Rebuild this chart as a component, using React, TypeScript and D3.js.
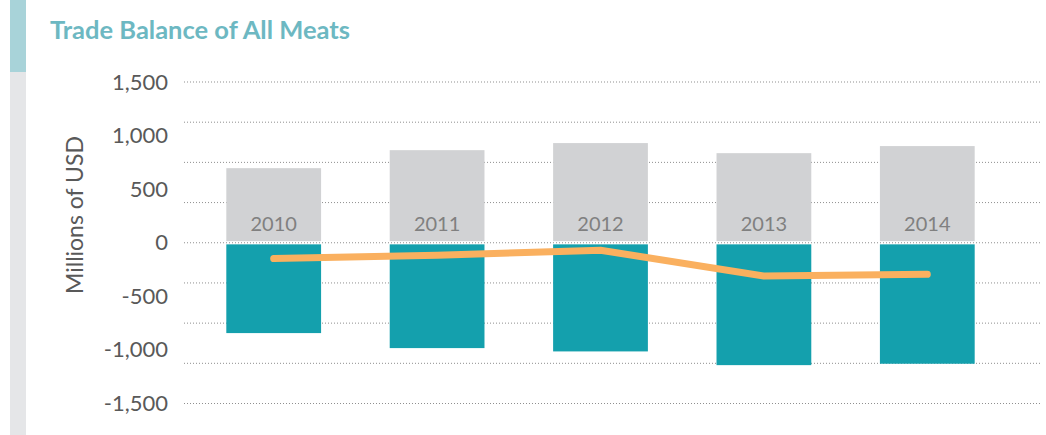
import React from "react";
import * as d3 from "d3";

const years = ["2010", "2011", "2012", "2013", "2014"];
const exportsUsd = [696, 864, 930, 836, 902];
const importsUsd = [-843, -983, -1014, -1142, -1129];
const balanceUsd = [-148, -117, -70, -310, -295];
const tickValues = [1500, 1000, 500, 0, -500, -1000, -1500];
const gridValues = [1500, 1125, 750, 375, 0, -375, -750, -1125, -1500];

const W = 1046;
const H = 435;
const font = "Lato, 'Open Sans', sans-serif";

const App = () => {
  const x = d3.scaleBand<string>().domain(years).range([192, 1009]).paddingInner(0.42).paddingOuter(0.21);
  const y = d3.scaleLinear().domain([-1500, 1500]).range([403.5, 82]);
  const zero = y(0);
  const gap = 1.6;

  const line = d3
    .line<number>()
    .x((_, i) => (x(years[i]) as number) + x.bandwidth() / 2)
    .y((d) => y(d));

  return (
    <svg width={W} height={H} style={{ position: "absolute", left: 0, top: 0, background: "#fff" }}>
      {/* side stripe */}
      <rect x={10} y={0} width={16} height={72} fill="#A8D3D9" />
      <rect x={10} y={72} width={16} height={H - 72} fill="#E5E6E8" />

      <text x={50} y={39} fill="#6DB8C2" fontFamily={font} fontWeight={700} fontSize={25.5}>
        Trade Balance of All Meats
      </text>

      {/* gridlines */}
      {gridValues.map((g) => (
        <line
          key={g}
          x1={184}
          x2={1040}
          y1={y(g)}
          y2={y(g)}
          stroke="#8f8f8f"
          strokeWidth={1}
          strokeDasharray="1 2"
        />
      ))}

      {/* tick labels */}
      {tickValues.map((t) => (
        <text
          key={t}
          x={168}
          y={y(t) + 2}
          textAnchor="end"
          dominantBaseline="middle"
          fill="#595959"
          fontFamily={font}
          fontSize={22}
        >
          {d3.format(",")(t).replace("−", "-")}
        </text>
      ))}

      <text
        transform={`translate(83,215) rotate(-90)`}
        textAnchor="middle"
        fill="#595959"
        fontFamily={font}
        fontSize={23}
      >
        Millions of USD
      </text>

      {/* bars */}
      {years.map((yr, i) => (
        <g key={yr}>
          <rect
            x={x(yr)}
            y={y(exportsUsd[i])}
            width={x.bandwidth()}
            height={zero - gap - y(exportsUsd[i])}
            fill="#D1D2D4"
          />
          <rect
            x={x(yr)}
            y={zero + gap}
            width={x.bandwidth()}
            height={y(importsUsd[i]) - zero - gap}
            fill="#14A0AD"
          />
          <text
            x={(x(yr) as number) + x.bandwidth() / 2}
            y={231}
            textAnchor="middle"
            fill="#808080"
            fontFamily={font}
            fontSize={20}
          >
            {yr}
          </text>
        </g>
      ))}

      <path
        d={line(balanceUsd) || ""}
        fill="none"
        stroke="#FAB05F"
        strokeWidth={7}
        strokeLinecap="round"
        strokeLinejoin="round"
      />
    </svg>
  );
};

export default App;
